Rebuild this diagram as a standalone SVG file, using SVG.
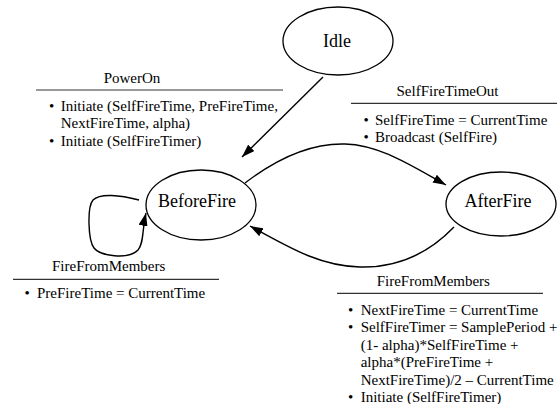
<svg xmlns="http://www.w3.org/2000/svg" width="558" height="404" viewBox="0 0 558 404" font-family="'Liberation Serif', Tinos, 'Times New Roman', 'DejaVu Serif', serif">
<defs>
<style>
text{font-family:'Liberation Serif', Tinos, 'Times New Roman', 'DejaVu Serif', serif}
.node{fill:#fff;stroke:#000;stroke-width:1.3}
.nl{font-size:18px;fill:#000;text-anchor:middle}
.t{font-size:15px;fill:#000}
.h{text-anchor:middle}
.sep{stroke:#333;stroke-width:1.2}
.edge{fill:none;stroke:#000;stroke-width:1.4}
</style>
<marker id="arr" markerWidth="13" markerHeight="9" refX="13" refY="4.5" orient="auto" markerUnits="userSpaceOnUse">
<path d="M0,0 L13,4.5 L0,9 Z" fill="#000"/>
</marker>
</defs>
<rect width="558" height="404" fill="#fff"/>
<g id="connectors">
<path class="edge" d="M323,77 L242,157" marker-end="url(#arr)"/>
<path class="edge" d="M245,183 C275,160 310,143 345,144 C380,145 410,165 446,185" marker-end="url(#arr)"/>
<path class="edge" d="M454,227 C430,252 400,268 360,267 C320,266 290,248 250,226" marker-end="url(#arr)"/>
<path class="edge" d="M139,200 C120,195 100,193 93,200 C87,207 88,240 94,248 C100,256 128,260 138,250 C144,243 142,230 146,213" marker-end="url(#arr)"/>
</g>
<g id="idle">
<ellipse class="node" cx="338" cy="41" rx="55" ry="34"/>
<text class="nl" x="337" y="47">Idle</text>
</g>
<g id="beforefire">
<ellipse class="node" cx="201" cy="205" rx="55" ry="35"/>
<text class="nl" x="197" y="207">BeforeFire</text>
</g>
<g id="afterfire">
<ellipse class="node" cx="501" cy="204" rx="55" ry="32"/>
<text class="nl" x="498" y="207">AfterFire</text>
</g>
<g id="label-poweron">
<text class="t h" x="132" y="83">PowerOn</text>
<line class="sep" x1="36" y1="90" x2="283" y2="90"/>
<text class="t" x="49" y="110.5">•</text>
<text class="t" x="60.7" y="110.5">Initiate (SelfFireTime, PreFireTime,</text>
<text class="t" x="60.7" y="127.5">NextFireTime, alpha)</text>
<text class="t" x="49" y="146">•</text>
<text class="t" x="60.7" y="146">Initiate (SelfFireTimer)</text>
</g>
<g id="label-selffiretimeout">
<text class="t h" x="447.5" y="95.5">SelfFireTimeOut</text>
<line class="sep" x1="351" y1="103.3" x2="557" y2="103.3"/>
<text class="t" x="363.5" y="124.5">•</text>
<text class="t" x="375" y="124.5">SelfFireTime = CurrentTime</text>
<text class="t" x="363.5" y="142">•</text>
<text class="t" x="375" y="142">Broadcast (SelfFire)</text>
</g>
<g id="label-firefrommembers-left">
<text class="t h" x="108.7" y="271">FireFromMembers</text>
<line class="sep" x1="13" y1="279.3" x2="219" y2="279.3"/>
<text class="t" x="24.5" y="298">•</text>
<text class="t" x="37" y="298">PreFireTime = CurrentTime</text>
</g>
<g id="label-firefrommembers-right">
<text class="t h" x="433.3" y="286">FireFromMembers</text>
<line class="sep" x1="337" y1="293.3" x2="543" y2="293.3"/>
<text class="t" x="348" y="314.5">•</text>
<text class="t" x="360.7" y="314.5">NextFireTime = CurrentTime</text>
<text class="t" x="348" y="332">•</text>
<text class="t" x="360.7" y="332">SelfFireTimer = SamplePeriod +</text>
<text class="t" x="360.7" y="349.5">(1- alpha)*SelfFireTime +</text>
<text class="t" x="360.7" y="367">alpha*(PreFireTime +</text>
<text class="t" x="360.7" y="384.5">NextFireTime)/2 – CurrentTime</text>
<text class="t" x="348" y="402">•</text>
<text class="t" x="360.7" y="402">Initiate (SelfFireTimer)</text>
</g>
</svg>
